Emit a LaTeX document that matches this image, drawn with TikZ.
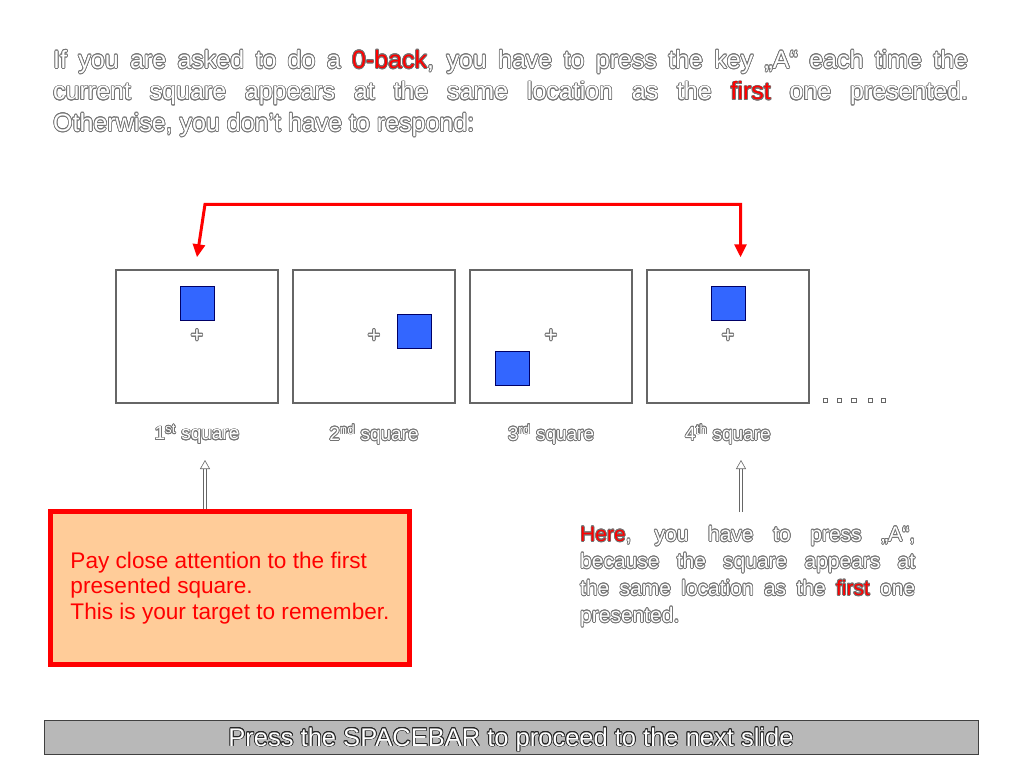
\documentclass[tikz,border=0pt]{standalone}
\usepackage{fontspec}
\setmainfont{Liberation Sans}
\usepackage[copies]{contour}
\usetikzlibrary{positioning}
\usetikzlibrary{arrows.meta}
\usetikzlibrary{shadows}

\definecolor{sqblue}{HTML}{3366FF}
\definecolor{notefill}{HTML}{FFCC99}
\contourlength{0.75pt}
\newcommand{\hollow}[1]{{\color{white}\contour{black!55}{#1}}}
\newcommand{\hollowdark}[1]{{\color{white}\contour{black!85}{#1}}}

\begin{document}
\begin{tikzpicture} [
    x=1pt, y=-1pt,
    frame/.style    = { rectangle, draw=black!60, line width=1.5pt, fill=white,
                        minimum width=162pt, minimum height=133pt, inner sep=0pt },
    target/.style   = { rectangle, draw=blue!40!black, line width=0.6pt, fill=sqblue,
                        minimum size=34pt, inner sep=0pt },
    fixcross/.style = { font=\fontsize{22}{22}\selectfont, inner sep=0pt },
    caption/.style  = { font=\fontsize{19}{19}\selectfont, inner sep=0pt },
    dot/.style      = { rectangle, draw=black!60, line width=0.8pt, fill=white,
                        minimum size=4.5pt, inner sep=0pt },
    note/.style     = { rectangle, draw=red, line width=5pt, fill=notefill,
                        minimum width=359pt, minimum height=153pt, align=left,
                        text=red, font=\fontsize{22.6}{25.5}\selectfont,
                        drop shadow={shadow xshift=2pt, shadow yshift=-2pt,
                                     fill=black, opacity=1} },
    bar/.style      = { rectangle, draw=black!75, line width=0.8pt, fill=black!28,
                        minimum width=934pt, minimum height=34pt, inner sep=0pt },
    memory/.style   = { draw=red, line width=3pt, <->,
                        >={Triangle[length=13pt, width=12pt]} },
    pointer/.style  = { draw=black!60, line width=0.6pt, double=white,
                        double distance=2.4pt,
                        -{Triangle[open, length=9pt, width=10pt]} },
  ]

\useasboundingbox (0,0) rectangle (1024,768);

% instruction text
\node [anchor=north west, align=left, inner sep=0pt,
       font=\fontsize{25}{31.5}\selectfont] (intro) at (53,50) {%
  \hollow{\makebox[915pt][s]{If you are asked to do a \textcolor{red}{0-back}, you have to press the key „A“ each time the}}\\
  \hollow{\makebox[915pt][s]{current square appears at the same location as the \textcolor{red}{first} one presented.}}\\
  \hollow{Otherwise, you don’t have to respond:}};

% the four screens
\node [frame] (f1) at (197,336.5) {};
\node [frame, right=13.5pt of f1] (f2) {};
\node [frame, right=13.5pt of f2] (f3) {};
\node [frame, right=13.5pt of f3] (f4) {};

\node [target] (s1) at ([yshift=33.5pt]f1.center) {};
\node [target] (s2) at ([xshift=40pt, yshift=5.5pt]f2.center) {};
\node [target] (s3) at ([xshift=-39pt, yshift=-31.5pt]f3.center) {};
\node [target] (s4) at ([yshift=33.5pt]f4.center) {};

\node [fixcross] (x1) at (f1.center) {\hollow{+}};
\node [fixcross] (x2) at (f2.center) {\hollow{+}};
\node [fixcross] (x3) at (f3.center) {\hollow{+}};
\node [fixcross] (x4) at (f4.center) {\hollow{+}};

\node [caption] (c1) at ([yshift=-31pt]f1.south) {\hollow{1\textsuperscript{st} square}};
\node [caption] (c2) at ([yshift=-31pt]f2.south) {\hollow{2\textsuperscript{nd} square}};
\node [caption] (c3) at ([yshift=-31pt]f3.south) {\hollow{3\textsuperscript{rd} square}};
\node [caption] (c4) at ([yshift=-31pt]f4.south) {\hollow{4\textsuperscript{th} square}};

% more screens follow
\foreach \x [count=\i] in {825.3, 839.5, 853.7, 870.5, 883.2}
    \node [dot] (d\i) at (\x,400.3) {};

% explanations
\node [note] (note) at (230,588) {Pay close attention to the first\\
                                  presented square.\\
                                  This is your target to remember.};

\node [anchor=north west, align=left, inner sep=0pt,
       font=\fontsize{21}{27}\selectfont] (here) at (580,526) {%
  \hollow{\makebox[335pt][s]{\textcolor{red}{Here}, you have to press „A“,}}\\
  \hollow{\makebox[335pt][s]{because the square appears at}}\\
  \hollow{\makebox[335pt][s]{the same location as the \textcolor{red}{first} one}}\\
  \hollow{presented.}};

\node [bar] (next) at (511,737) {};
\node [font=\fontsize{25.5}{25.5}\selectfont] (nexttext) at ([yshift=-3pt]next.center)
      {\hollowdark{Press the SPACEBAR to proceed to the next slide}};

\coordinate (up1) at (205,460);
\coordinate (up4) at (741,460);
\coordinate (tip1) at ([yshift=12pt]f1.north);
\coordinate (tip4) at ([xshift=12.5pt, yshift=12pt]f4.north);

\begin{scope} [every path/.style=pointer]
    \path (note.north -| up1)  --  (up1);
    \path [shorten <=14pt] (here.north -| up4)  --  (up4);
\end{scope}

\path [memory] (tip1) -- ++(8,-53) -| (tip4);

\end{tikzpicture}
\end{document}
